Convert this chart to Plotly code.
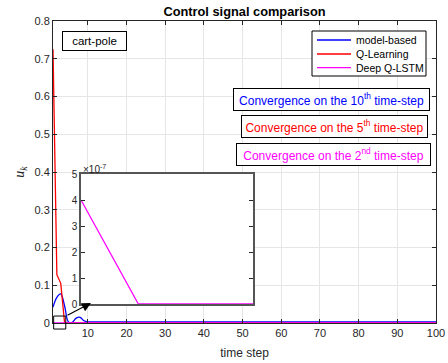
import plotly.graph_objects as go

# ---------------- data ----------------
time_steps = list(range(1, 101))
model_based = [0.042, 0.068, 0.077, 0.045, 0.003, 0.002, 0.013, 0.015, 0.006, 0.003] + [0.003] * 90
q_learning = [0.725, 0.128, 0.105, 0.0] + [0.0] * 96
deep_q_lstm = [4e-7, 0.0] + [0.0] * 98

series_names = ["model-based", "Q-Learning", "Deep Q-LSTM"]
series_colors = ["#0000ff", "#ff0000", "#ff00ff"]

x_ticks = [10, 20, 30, 40, 50, 60, 70, 80, 90, 100]
y_ticks = [0, 0.1, 0.2, 0.3, 0.4, 0.5, 0.6, 0.7, 0.8]
y_tick_labels = ["0", "0.1", "0.2", "0.3", "0.4", "0.5", "0.6", "0.7", "0.8"]
inset_y_ticks = [0, 1e-7, 2e-7, 3e-7, 4e-7, 5e-7]
inset_y_labels = ["0", "1", "2", "3", "4", "5"]

# ranges
X_MAIN = [1, 100]
Y_MAIN = [0, 0.8]
X_INSET = [1, 4]
Y_INSET = [0, 5e-7]

W, H = 448, 363
ML, MR, MT, MB = 53, 12, 21, 40
PW, PH = W - ML - MR, H - MT - MB

def px_to_paper_x(px):
    return (px - ML) / PW

def px_to_paper_y(py):
    return (H - MB - py) / PH

FONT = "Liberation Sans, Arial, sans-serif"
TICKC = "#262626"

fig = go.Figure()

# main traces
for vals, name, col, sh in zip([model_based, q_learning, deep_q_lstm], series_names, series_colors,
                               ["spline", "linear", "linear"]):
    fig.add_trace(go.Scatter(x=time_steps, y=vals, mode="lines", name=name,
                             line=dict(color=col, width=1.3, shape=sh),
                             xaxis="x", yaxis="y", showlegend=False))

# inset trace
fig.add_trace(go.Scatter(x=time_steps, y=deep_q_lstm, mode="lines", showlegend=False,
                         line=dict(color="#ff00ff", width=1.3), xaxis="x2", yaxis="y2"))

axis_common = dict(showline=True, linecolor=TICKC, linewidth=1, mirror="ticks",
                   ticks="inside", ticklen=4, tickcolor=TICKC, zeroline=False,
                   automargin=False,
                   tickfont=dict(family=FONT, size=11, color=TICKC))

inset_x_dom = [px_to_paper_x(81), px_to_paper_x(253)]
inset_y_dom = [px_to_paper_y(304), px_to_paper_y(174)]

fig.update_layout(
    width=W, height=H,
    margin=dict(l=ML, r=MR, t=MT, b=MB, autoexpand=False),
    paper_bgcolor="white", plot_bgcolor="white",
    font=dict(family=FONT, color="black"),
    showlegend=False,
    title=dict(text="<b>Control signal comparison</b>", x=0.5, xref="paper",
               y=1 - 12 / H, yanchor="middle", yref="container",
               font=dict(family=FONT, size=12.8, color="black")),
    xaxis=dict(range=X_MAIN, domain=[0, 1], tickvals=x_ticks, showgrid=True,
               gridcolor="#e6e6e6", gridwidth=1,
               title=dict(text="time step", standoff=10,
                          font=dict(family=FONT, size=12, color=TICKC)),
               **axis_common),
    yaxis=dict(range=Y_MAIN, domain=[0, 1], tickvals=y_ticks, ticktext=y_tick_labels,
               showgrid=True, gridcolor="#e6e6e6", gridwidth=1,
               title=dict(text="<i>u<sub>k</sub></i>", standoff=6,
                          font=dict(family="Liberation Serif, serif", size=14, color=TICKC)),
               **axis_common),
    xaxis2=dict(range=X_INSET, domain=inset_x_dom, anchor="y2", showticklabels=False,
                ticks="", showgrid=False, zeroline=False, showline=True, mirror=True,
                linecolor="#555555", linewidth=1.5, automargin=False),
    yaxis2=dict(range=Y_INSET, domain=inset_y_dom, anchor="x2", tickvals=inset_y_ticks,
                ticktext=inset_y_labels, ticks="inside", ticklen=4, tickcolor=TICKC,
                showgrid=False, zeroline=False, showline=True, mirror="ticks",
                linecolor="#555555", linewidth=1.5, automargin=False,
                tickfont=dict(family=FONT, size=10, color=TICKC)),
)

# white background for inset (covers main grid)
fig.add_shape(type="rect", xref="x2", yref="y2", x0=X_INSET[0], x1=X_INSET[1],
              y0=Y_INSET[0], y1=Y_INSET[1],
              fillcolor="white", line=dict(width=0), layer="between")

# zoom rectangle on main plot (paper coords computed from data)
def dx(v):
    return (v - X_MAIN[0]) / (X_MAIN[1] - X_MAIN[0])

def dy(v):
    return (v - Y_MAIN[0]) / (Y_MAIN[1] - Y_MAIN[0])

fig.add_shape(type="rect", xref="paper", yref="paper", x0=dx(1.17), x1=dx(4.3),
              y0=dy(-0.016), y1=dy(0.0185), line=dict(color="black", width=1),
              fillcolor="rgba(0,0,0,0)", layer="above")

annotations = []

# custom legend (MATLAB-style compact box)
LEG_L, LEG_R, LEG_T, LEG_B = 312, 426, 31, 76
fig.add_shape(type="rect", xref="paper", yref="paper",
              x0=px_to_paper_x(LEG_L), x1=px_to_paper_x(LEG_R),
              y0=px_to_paper_y(LEG_B), y1=px_to_paper_y(LEG_T),
              line=dict(color="black", width=1), fillcolor="white", layer="above")
row_y = [40, 54, 67.7]
for name, col, ry in zip(series_names, series_colors, row_y):
    fig.add_shape(type="line", xref="paper", yref="paper",
                  x0=px_to_paper_x(317), x1=px_to_paper_x(351),
                  y0=px_to_paper_y(ry), y1=px_to_paper_y(ry),
                  line=dict(color=col, width=1.3), layer="above")
    annotations.append(dict(x=px_to_paper_x(354), y=px_to_paper_y(ry), xref="paper", yref="paper",
                            text=name, showarrow=False, xanchor="left", yanchor="middle",
                            font=dict(family=FONT, size=10.5, color="black")))

# arrow
annotations.append(dict(x=px_to_paper_x(91), y=px_to_paper_y(303), xref="paper", yref="paper",
                        text="", showarrow=True, ax=-25, ay=13, axref="pixel", ayref="pixel",
                        arrowhead=2, arrowsize=1.5, arrowwidth=1.2, arrowcolor="black"))
# exponent
annotations.append(dict(x=px_to_paper_x(81), y=px_to_paper_y(169), xref="paper", yref="paper",
                        text="×10<sup>-7</sup>", showarrow=False, xanchor="left", yanchor="middle",
                        font=dict(family=FONT, size=10, color=TICKC)))
# cart-pole label
annotations.append(dict(x=px_to_paper_x(94.5), y=px_to_paper_y(41.5), xref="paper", yref="paper",
                        text="cart-pole", showarrow=False, bordercolor="black", borderwidth=1,
                        borderpad=3, bgcolor="white", width=57,
                        xanchor="center", yanchor="middle",
                        font=dict(family=FONT, size=11.5, color="black")))
# convergence boxes
conv = [("Convergence on the 10<sup>th</sup> time-step", "#0000ff", 331.5, 99.5, 191),
        ("Convergence on the 5<sup>th</sup> time-step", "#ff0000", 334.5, 126.5, 181),
        ("Convergence on the 2<sup>nd</sup> time-step", "#ff00ff", 333.5, 154.5, 189)]
for txt, col, cx, cy, wd in conv:
    annotations.append(dict(x=px_to_paper_x(cx), y=px_to_paper_y(cy), xref="paper", yref="paper",
                            text=txt, showarrow=False, bordercolor="black", borderwidth=1,
                            borderpad=2, bgcolor="white", width=wd, height=17,
                            xanchor="center", yanchor="middle",
                            font=dict(family=FONT, size=12, color=col)))
fig.update_layout(annotations=annotations)

fig.write_html("out.html")
